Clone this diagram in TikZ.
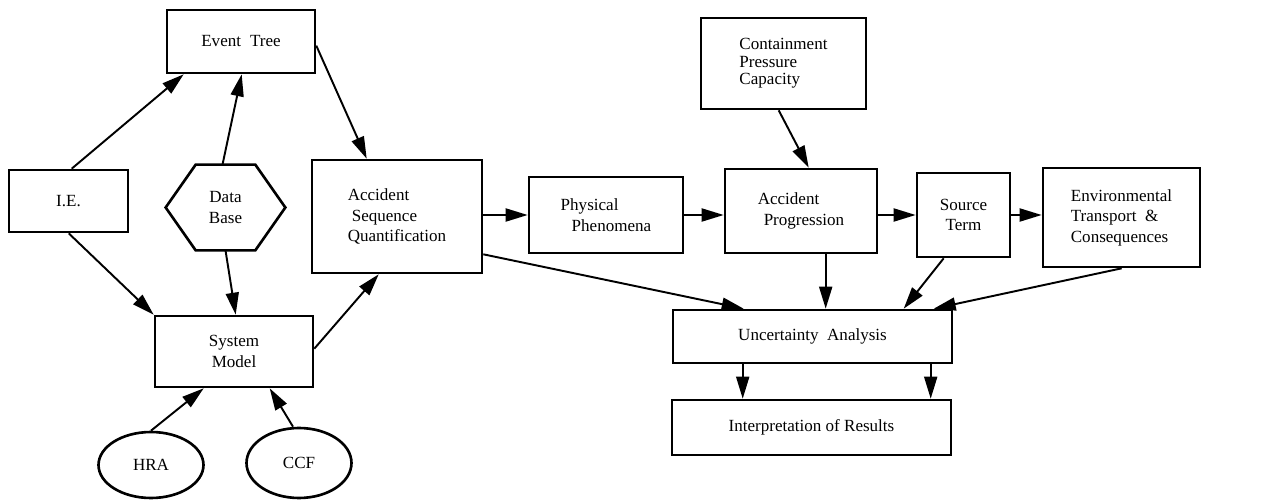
\documentclass[tikz,border=0pt]{standalone}
\usepackage{fontspec}
\setmainfont{Liberation Serif}
\usetikzlibrary{arrows.meta,calc,shapes.geometric}
\begin{document}
\begin{tikzpicture}[x=0.02cm,y=-0.02cm,
  box/.style={draw,line width=1.5pt,rectangle,inner sep=0pt,font=\fontsize{9.7}{11.7}\selectfont},
  oval/.style={draw,line width=1.5pt,ellipse,inner sep=0pt,font=\fontsize{9.7}{11.7}\selectfont},
  plain/.style={inner sep=0pt,font=\fontsize{9.7}{11.7}\selectfont},
  arr/.style={line width=1.1pt,-{Triangle[length=0.44cm,width=0.26cm]}}]
\useasboundingbox (0,0) rectangle (1276,500);
% nodes
\node[box,minimum width=2.96cm,minimum height=1.26cm] (et) at (241,41.5) {Event\hspace{0.18cm}Tree};
\node[box,minimum width=2.38cm,minimum height=1.24cm] (ie) at (68.5,201) {I.E.};
\node[plain,minimum width=2.38cm,minimum height=1.70cm,align=center] (db) at (225.5,207.5) {Data\\Base};
\draw[line width=1.5pt,line join=miter] (db.west) -- ($(db.north west)+(30,0)$) -- ($(db.north east)+(-30,0)$) -- (db.east) -- ($(db.south east)+(-30,0)$) -- ($(db.south west)+(30,0)$) -- cycle;
\node[box,minimum width=3.40cm,minimum height=2.26cm,align=left] (asq) at (397,216.5) {Accident\\\hspace*{0.08cm}Sequence\\Quantification};
\node[box,minimum width=3.16cm,minimum height=1.42cm,align=center] (sm) at (234,351.5) {System\\Model};
\node[oval,minimum width=2.10cm,minimum height=1.32cm] (hra) at (151,465) {HRA};
\node[oval,minimum width=2.10cm,minimum height=1.40cm] (ccf) at (299,463) {CCF};
\node[box,minimum width=3.08cm,minimum height=1.52cm,align=left] (pp) at (606,215) {Physical\\\hspace*{0.22cm}Phenomena};
\node[box,minimum width=3.30cm,minimum height=1.82cm,align=left,font=\fontsize{9.7}{10}\selectfont] (cpc) at (783.5,63.5) {Containment\\Pressure\\Capacity};
\node[box,minimum width=3.04cm,minimum height=1.68cm,align=left] (ap) at (801,211) {Accident\\\hspace*{0.12cm}Progression};
\node[box,minimum width=1.86cm,minimum height=1.68cm,align=center] (st) at (963.5,215) {Source\\Term};
\node[box,minimum width=3.14cm,minimum height=1.98cm,align=left] (env) at (1121.5,217.5) {Environmental\\Transport\ \ \&\\Consequences};
\node[box,minimum width=5.58cm,minimum height=1.06cm] (ua) at (812.5,336.5) {Uncertainty\ \ Analysis};
\node[box,minimum width=5.58cm,minimum height=1.10cm] (ir) at (811.5,427.5) {Interpretation\ of\ Results};
% connectors
\draw[arr] ($(ie.north west)+(64,0)$) -- ($(et.south west)+(18,0)$);
\draw[arr] ($(db.north)+(-3,0)$) -- ($(et.south west)+(76,0)$);
\draw[arr] ($(et.north east)+(0,37)$) -- ($(asq.north west)+(56,0)$);
\draw[arr] ($(ie.south west)+(61,0)$) -- (sm.north west);
\draw[arr] (db.south) -- ($(sm.north west)+(82,0)$);
\draw[arr] ($(sm.north east)+(0,34)$) -- ($(asq.south west)+(68,0)$);
\draw[arr] (hra.north) -- ($(sm.south west)+(50,0)$);
\draw[arr] ($(ccf.north)+(-6,0)$) -- ($(sm.south west)+(116,0)$);
\draw[arr] (asq.east |- pp.west) -- (pp.west);
\draw[arr] (pp.east) -- (pp.east -| ap.west);
\draw[arr] (ap.east |- st.west) -- (st.west);
\draw[arr] (st.east) -- (st.east -| env.west);
\draw[arr] ($(cpc.south west)+(79,0)$) -- ($(ap.north west)+(85,0)$);
\draw[arr] ($(asq.south east)+(0,-20)$) -- ($(ua.north west)+(72,0)$);
\draw[arr] ($(ap.south west)+(102,0)$) coordinate (apd) -- (apd |- ua.north);
\draw[arr] ($(st.south west)+(28,0)$) -- ($(ua.north west)+(232,0)$);
\draw[arr] ($(env.south west)+(80,0)$) -- ($(ua.north west)+(262,0)$);
\draw[arr] ($(ua.south west)+(71,0)$) coordinate (ual) -- (ual |- ir.north);
\draw[arr] ($(ua.south west)+(259,0)$) coordinate (uar) -- (uar |- ir.north);
\end{tikzpicture}
\end{document}
